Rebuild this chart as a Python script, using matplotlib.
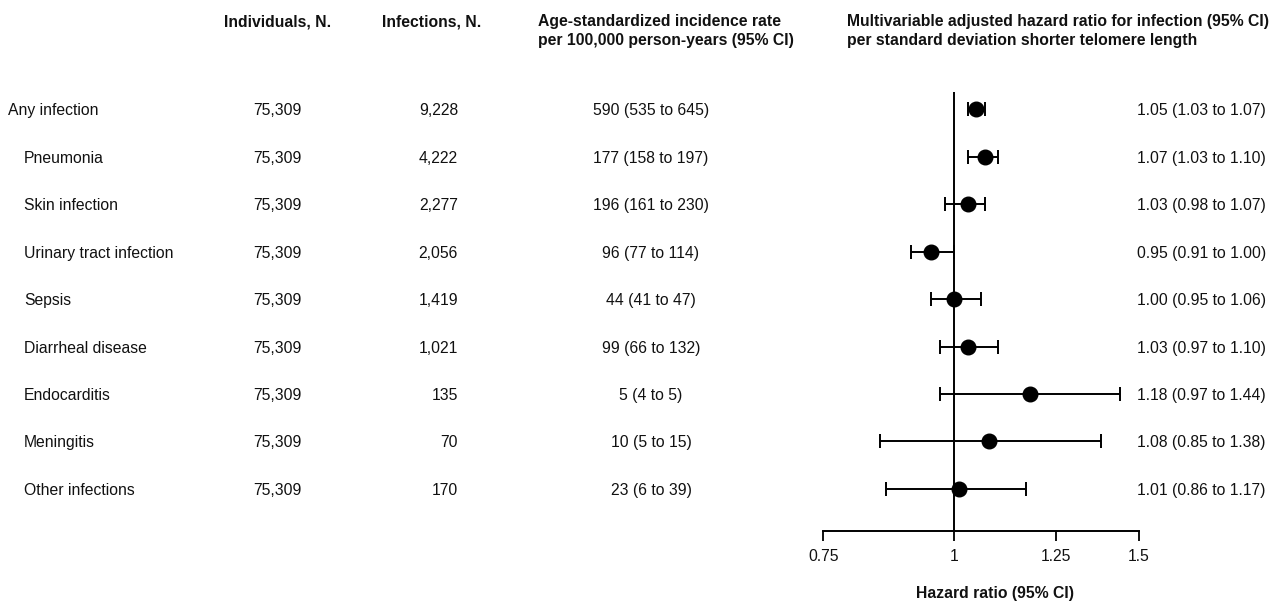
import matplotlib
matplotlib.use("Agg")
import matplotlib.pyplot as plt
import matplotlib.transforms as mtransforms
from matplotlib.ticker import NullLocator

# ---------------- data ----------------
outcomes = ["Any infection", "Pneumonia", "Skin infection", "Urinary tract infection",
            "Sepsis", "Diarrheal disease", "Endocarditis", "Meningitis", "Other infections"]
is_sub = [False, True, True, True, True, True, True, True, True]
individuals = [75309, 75309, 75309, 75309, 75309, 75309, 75309, 75309, 75309]
infections = [9228, 4222, 2277, 2056, 1419, 1021, 135, 70, 170]
rate = [590, 177, 196, 96, 44, 99, 5, 10, 23]
rate_lo = [535, 158, 161, 77, 41, 66, 4, 5, 6]
rate_hi = [645, 197, 230, 114, 47, 132, 5, 15, 39]
hr = [1.05, 1.07, 1.03, 0.95, 1.00, 1.03, 1.18, 1.08, 1.01]
hr_lo = [1.03, 1.03, 0.98, 0.91, 0.95, 0.97, 0.97, 0.85, 0.86]
hr_hi = [1.07, 1.10, 1.07, 1.00, 1.06, 1.10, 1.44, 1.38, 1.17]
x_ticks = [0.75, 1, 1.25, 1.5]
x_tick_labels = ["0.75", "1", "1.25", "1.5"]

headers = {
    "individuals": "Individuals, N.",
    "infections": "Infections, N.",
    "rate": ["Age-standardized incidence rate", "per 100,000 person-years (95% CI)"],
    "hr": ["Multivariable adjusted hazard ratio for infection (95% CI)",
           "per standard deviation shorter telomere length"],
}
x_label = "Hazard ratio (95% CI)"

# ---------------- style ----------------
plt.rcParams['font.family'] = ['Liberation Sans', 'DejaVu Sans']
FS = 11.3
TXT = '#111111'
W, H = 1280, 613


def fx(px):
    return px / W


def fy(py):
    return 1 - py / H


fig = plt.figure(figsize=(W / 100, H / 100), dpi=100)
fig.patch.set_facecolor('white')

ax_left, ax_right = 823.3, 1138.7
ax_top, ax_bottom = 91.7, 530.7
ax = fig.add_axes([fx(ax_left), fy(ax_bottom), (ax_right - ax_left) / W, (ax_bottom - ax_top) / H])

n = len(outcomes)
ypos = list(range(n))
ax.set_xscale('log')
ax.set_xlim(0.75, 1.5)
ax.set_ylim(8.88, -0.37)

xerr = [[h - lo for h, lo in zip(hr, hr_lo)], [hi - h for h, hi in zip(hr, hr_hi)]]
ax.axvline(1, color='black', lw=1.4, zorder=1)
ax.errorbar(hr, ypos, xerr=xerr, fmt='o', color='black', ms=10.5, capsize=4.8,
            elinewidth=1.4, capthick=1.4, zorder=3)

for s in ['top', 'left', 'right']:
    ax.spines[s].set_visible(False)
ax.spines['bottom'].set_linewidth(1.4)
ax.set_yticks([])
ax.set_xticks(x_ticks)
ax.set_xticklabels(x_tick_labels)
ax.xaxis.set_minor_locator(NullLocator())
ax.tick_params(axis='x', length=7, width=1.4, pad=6.3, labelsize=FS, colors=TXT)
ax.patch.set_visible(False)

fig.text(fx(994.5), fy(592), x_label, ha='center', va='center_baseline',
         fontsize=FS, fontweight='bold', color=TXT)

# ---------------- table text ----------------
tr = mtransforms.blended_transform_factory(fig.transFigure, ax.transData)
for i in range(n):
    y = ypos[i]
    ax.text(fx(24 if is_sub[i] else 8.3), y, outcomes[i], transform=tr, ha='left',
            va='center_baseline', fontsize=FS, color=TXT, clip_on=False)
    ax.text(fx(277.5), y, f"{individuals[i]:,}", transform=tr, ha='center',
            va='center_baseline', fontsize=FS, color=TXT, clip_on=False)
    ax.text(fx(458), y, f"{infections[i]:,}", transform=tr, ha='right',
            va='center_baseline', fontsize=FS, color=TXT, clip_on=False)
    ax.text(fx(651), y, f"{rate[i]} ({rate_lo[i]} to {rate_hi[i]})", transform=tr,
            ha='center', va='center_baseline', fontsize=FS, color=TXT, clip_on=False)
    ax.text(fx(1136.7), y, f"{hr[i]:.2f} ({hr_lo[i]:.2f} to {hr_hi[i]:.2f})", transform=tr,
            ha='left', va='center_baseline', fontsize=FS, color=TXT, clip_on=False)

hdr = dict(fontsize=FS, fontweight='bold', color=TXT, va='center_baseline')
fig.text(fx(278), fy(20.4), headers["individuals"], ha='center', **hdr)
fig.text(fx(432), fy(20.4), headers["infections"], ha='center', **hdr)
fig.text(fx(538.5), fy(20.4), headers["rate"][0], ha='left', **hdr)
fig.text(fx(538.5), fy(39.3), headers["rate"][1], ha='left', **hdr)
fig.text(fx(846.7), fy(20.4), headers["hr"][0], ha='left', **hdr)
fig.text(fx(846.7), fy(39.3), headers["hr"][1], ha='left', **hdr)

fig.savefig("out.png", dpi=100, facecolor='white')
